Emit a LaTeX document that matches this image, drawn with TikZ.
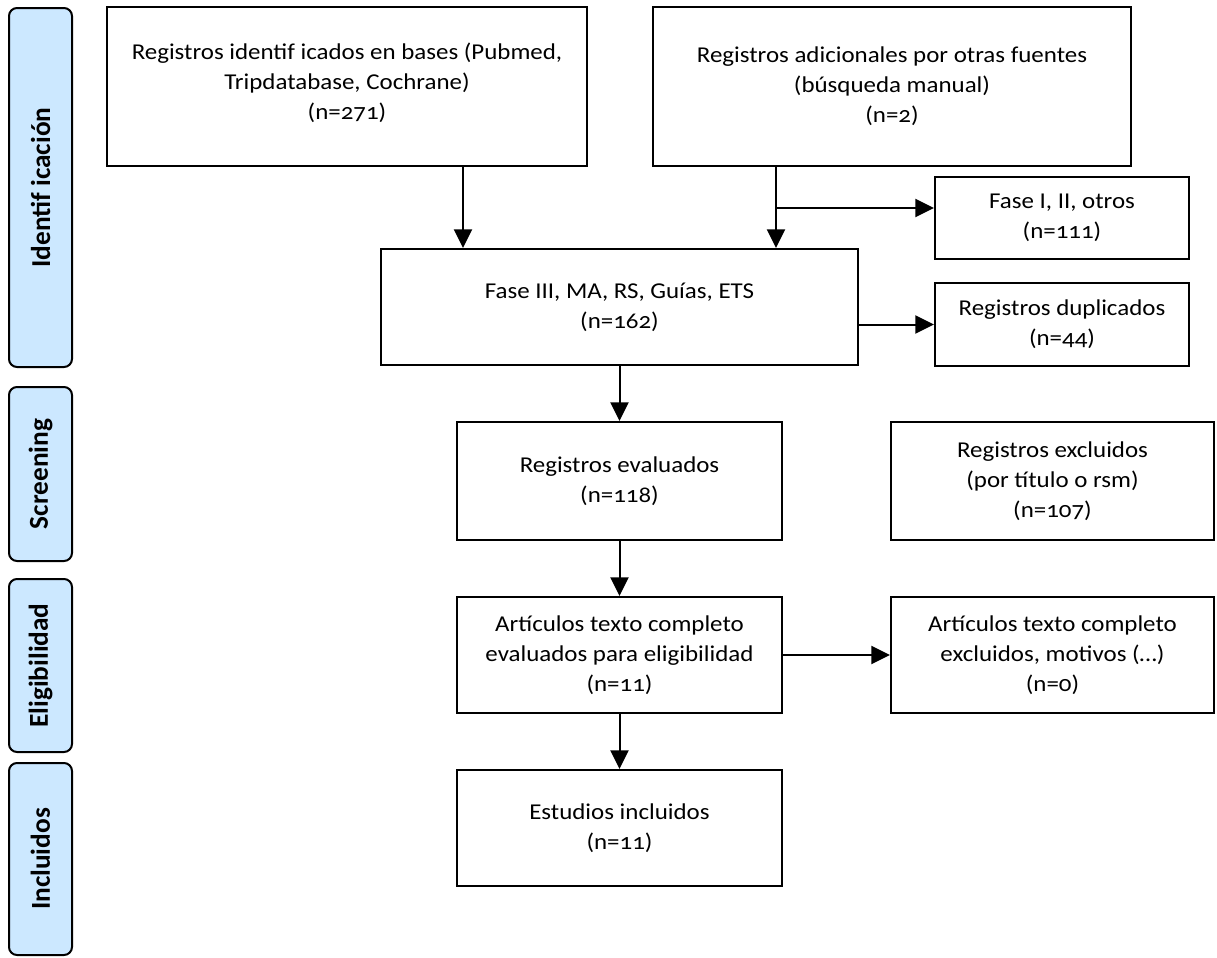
\documentclass[tikz,border=0pt]{standalone}
\usepackage{fontspec}
\setmainfont{Carlito}[Numbers=OldStyle, FakeStretch=1.1]
\newfontfamily\labelfont{Carlito}
\usetikzlibrary{arrows.meta,fit}
\definecolor{phaseblue}{RGB}{204,232,255}
\begin{document}
\begin{tikzpicture}[x=0.75pt,y=-0.75pt,
  box/.style={draw, line width=1.5pt, inner sep=0pt, align=center,
    font=\fontsize{17}{22.5}\selectfont},
  txt/.style={align=center, inner sep=0pt, font=\fontsize{17}{22.5}\selectfont},
  phase/.style={draw, line width=1.5pt, rounded corners=6pt, fill=phaseblue, inner sep=0pt},
  phasetxt/.style={rotate=90, inner sep=0pt, font=\labelfont\bfseries\fontsize{20.5}{24}\selectfont},
  arr/.style={line width=1.5pt, -{Triangle[length=14pt,width=13.5pt]}},
]
\useasboundingbox (0,0) rectangle (1217,957);

% phase labels
\node[phase, fit={(9,8) (72,367)}] (p1) {};
\node[phasetxt] (p1t) at (p1.center) {Identif icación};
\node[phase, fit={(9,387) (72,561)}] (p2) {};
\node[phasetxt] (p2t) at (p2.center) {Screening};
\node[phase, fit={(9,579) (72,752)}] (p3) {};
\node[phasetxt] (p3t) at (p3.center) {Eligibilidad};
\node[phase, fit={(9,763) (72,955)}] (p4) {};
\node[phasetxt] (p4t) at (p4.center) {Incluidos};

% boxes
\node[box, fit={(107,7) (587,166)}] (A) {};
\node[txt] (At) at ([yshift=2.5pt]A.center) {Registros identif icados en bases (Pubmed,\\Tripdatabase, Cochrane)\\(n=271)};
\node[box, fit={(653,7) (1131,166)}] (B) {};
\node[txt] (Bt) at (B.center) {Registros adicionales por otras fuentes\\(búsqueda manual)\\(n=2)};
\node[box, fit={(935,177) (1189,259)}] (C) {};
\node[txt] (Ct) at (C.center) {Fase I, II, otros\\(n=111)};
\node[box, fit={(381,249) (858,365)}] (D) {};
\node[txt] (Dt) at (D.center) {Fase III, MA, RS, Guías, ETS\\(n=162)};
\node[box, fit={(935,283) (1189,366)}] (E) {};
\node[txt] (Et) at (E.center) {Registros duplicados\\(n=44)};
\node[box, fit={(457,422) (782,540)}] (F) {};
\node[txt] (Ft) at (F.center) {Registros evaluados\\(n=118)};
\node[box, fit={(891,422) (1214,540)}] (G) {};
\node[txt] (Gt) at (G.center) {Registros excluidos\\(por título o rsm)\\(n=107)};
\node[box, fit={(457,597) (782,713)}] (H) {};
\node[txt] (Ht) at (H.center) {Artículos texto completo\\evaluados para eligibilidad\\(n=11)};
\node[box, fit={(891,597) (1214,713)}] (I) {};
\node[txt] (It) at (I.center) {Artículos texto completo\\excluidos, motivos (…)\\(n=0)};
\node[box, fit={(457,770) (782,886)}] (J) {};
\node[txt] (Jt) at (J.center) {Estudios incluidos\\(n=11)};

% connectors
\coordinate (colA) at (463,0);
\coordinate (colB) at (776,0);
\coordinate (br) at (776,208);
\draw[arr] (A.south -| colA) -- (D.north -| colA);
\draw[arr] (B.south -| colB) -- (D.north -| colB);
\draw[arr] (br) -- (C.west |- br);
\draw[arr] (D.east |- E.west) -- (E.west);
\draw[arr] (D.south) -- (F.north);
\draw[arr] (F.south) -- (H.north);
\draw[arr] (H.east) -- (I.west);
\draw[arr] (H.south) -- (J.north);
\end{tikzpicture}
\end{document}
